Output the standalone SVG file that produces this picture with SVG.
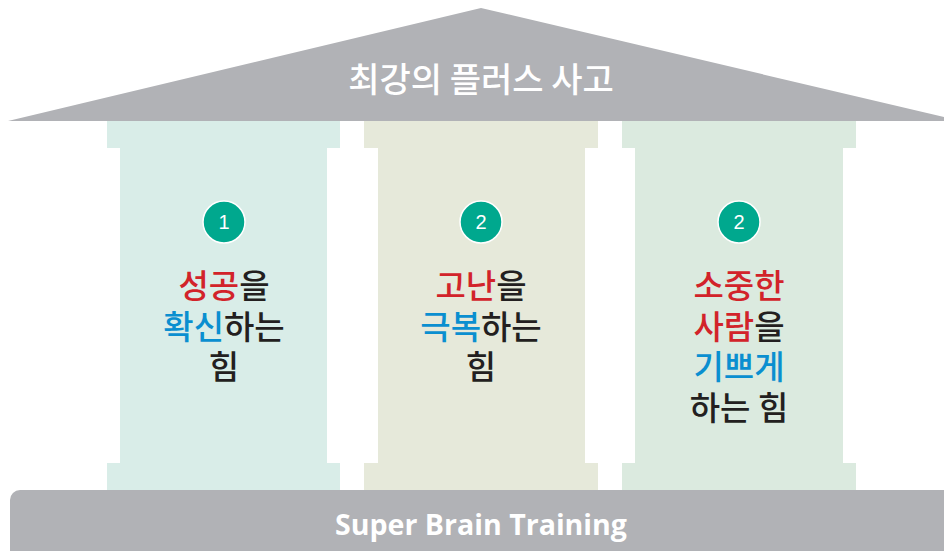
<svg xmlns="http://www.w3.org/2000/svg" width="944" height="551" viewBox="0 0 944 551">
<defs>
<style>
.grey{fill:#b1b2b6}
.kr{font-family:"Noto Sans CJK KR","Noto Sans",sans-serif;font-weight:500;text-anchor:middle}
.t{font-size:33px;fill:#231f20}
.r{fill:#d2232a}
.b{fill:#0a8fd0}
.badge{fill:#00a88e;stroke:#fff;stroke-width:1.5}
.num{font-family:"Liberation Sans",Arial,sans-serif;font-size:20px;fill:#fff;text-anchor:middle}
</style>
</defs>
<rect width="944" height="551" fill="#fff"/>
<g id="roof">
<polygon class="grey" points="481,8 8,121 944,121 944,117"/>
<text class="kr" x="481" y="92" font-size="34" font-weight="300" fill="#fff">최강의 플러스 사고</text>
</g>
<g id="pillar1">
<path fill="#d9ede8" d="M107,121H340V148H327V463H340V490H107V463H120V148H107Z"/>
<circle class="badge" cx="224" cy="222" r="21"/>
<text class="num" x="224" y="229">1</text>
<text class="kr t" x="224" y="298"><tspan class="r">성공</tspan>을</text>
<text class="kr t" x="224" y="339"><tspan class="b">확신</tspan>하는</text>
<text class="kr t" x="224" y="379">힘</text>
</g>
<g id="pillar2">
<path fill="#e6e9da" d="M364,121H598V148H585V463H598V490H364V463H378V148H364Z"/>
<circle class="badge" cx="481" cy="222" r="21"/>
<text class="num" x="481" y="229">2</text>
<text class="kr t" x="481" y="298"><tspan class="r">고난</tspan>을</text>
<text class="kr t" x="481" y="339"><tspan class="b">극복</tspan>하는</text>
<text class="kr t" x="481" y="379">힘</text>
</g>
<g id="pillar3">
<path fill="#dbeadf" d="M622,121H856V148H843V463H856V490H622V463H635V148H622Z"/>
<circle class="badge" cx="739" cy="222" r="21"/>
<text class="num" x="739" y="229">2</text>
<text class="kr t" x="739" y="298"><tspan class="r">소중한</tspan></text>
<text class="kr t" x="739" y="339"><tspan class="r">사람</tspan>을</text>
<text class="kr t" x="739" y="379"><tspan class="b">기쁘게</tspan></text>
<text class="kr t" x="739" y="420">하는 힘</text>
</g>
<g id="base">
<rect class="grey" x="10" y="490" width="950" height="80" rx="10"/>
<text x="481" y="535" font-family="'Open Sans','Liberation Sans',sans-serif" font-weight="700" font-size="28" fill="#fff" text-anchor="middle" textLength="292" lengthAdjust="spacingAndGlyphs">Super Brain Training</text>
</g>
<g id="connectors"/>
</svg>
